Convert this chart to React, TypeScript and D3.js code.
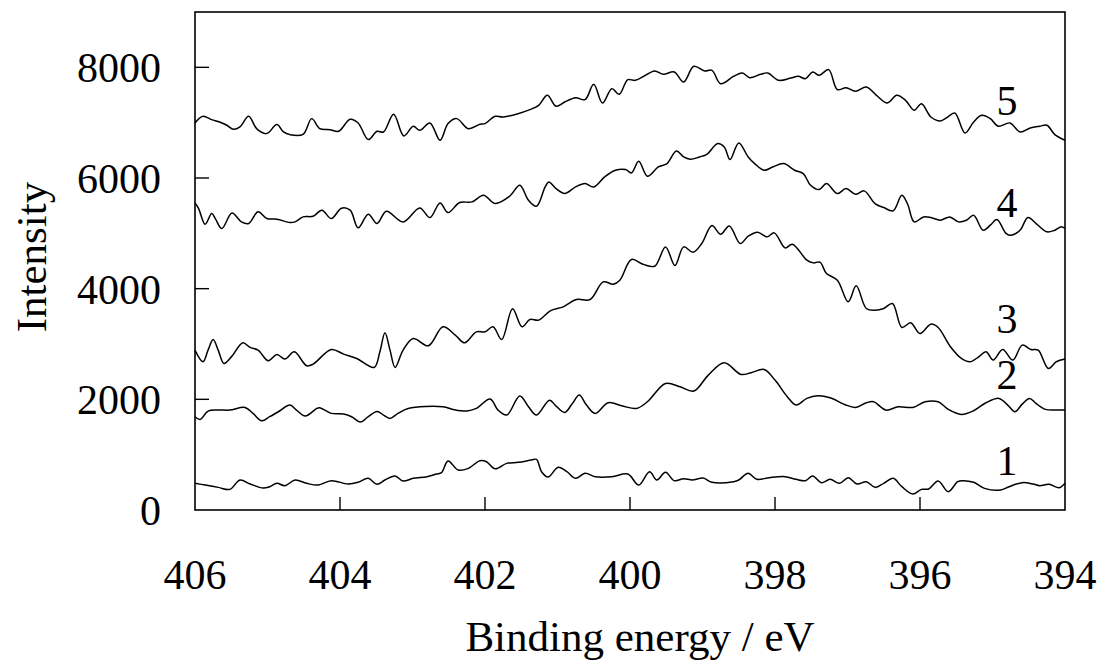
import React from "react";
import * as d3 from "d3";

// ---- data (binding energy eV, intensity) ----
const xTicks = [406, 404, 402, 400, 398, 396, 394];
const yTicks = [0, 2000, 4000, 6000, 8000];
const curveLabels = ["1", "2", "3", "4", "5"];
const labelPositions: [number, number][] = [
  [394.8, 640],
  [394.8, 2180],
  [394.8, 3200],
  [394.8, 5290],
  [394.8, 7140],
];

const series1: [number, number][] = [
  [406, 482], [405.86, 451], [405.68, 409], [405.52, 373], [405.38, 542], [405.24, 470],
  [405.06, 397], [404.97, 421], [404.87, 482], [404.76, 439], [404.62, 542], [404.46, 482],
  [404.3, 451], [404.12, 530], [403.89, 470], [403.75, 500], [403.61, 572], [403.49, 464],
  [403.38, 542], [403.24, 614], [403.13, 524], [402.99, 572], [402.8, 602], [402.67, 650],
  [402.6, 674], [402.51, 885], [402.37, 722], [402.23, 752], [402.07, 891], [401.98, 873],
  [401.86, 746], [401.7, 843], [401.54, 861], [401.36, 903], [401.29, 915], [401.22, 692],
  [401.13, 595], [400.99, 771], [400.87, 692], [400.75, 572], [400.62, 662], [400.48, 602],
  [400.25, 602], [400.03, 650], [399.88, 451], [399.73, 692], [399.63, 542], [399.51, 680],
  [399.39, 530], [399.26, 566], [399.14, 542], [398.99, 578], [398.87, 500], [398.57, 512],
  [398.5, 542], [398.37, 662], [398.25, 554], [398.08, 584], [397.86, 602], [397.71, 554],
  [397.58, 530], [397.48, 614], [397.36, 494], [397.24, 554], [397.11, 482], [396.99, 584],
  [396.87, 470], [396.74, 512], [396.62, 409], [396.5, 482], [396.37, 572], [396.25, 421],
  [396.1, 289], [395.98, 373], [395.88, 379], [395.75, 524], [395.61, 331], [395.48, 512],
  [395.41, 530], [395.26, 500], [395.11, 391], [394.89, 361], [394.77, 421], [394.59, 494],
  [394.44, 470], [394.35, 439], [394.22, 464], [394.08, 403], [394, 482],
];

const series2: [number, number][] = [
  [406, 1686], [405.93, 1637], [405.82, 1788], [405.68, 1806], [405.52, 1806], [405.31, 1854],
  [405.2, 1746], [405.08, 1613], [404.97, 1686], [404.85, 1776], [404.69, 1896], [404.6, 1806],
  [404.48, 1698], [404.32, 1836], [404.28, 1848], [404.12, 1746], [403.95, 1734], [403.84, 1686],
  [403.72, 1589], [403.61, 1686], [403.49, 1782], [403.4, 1716], [403.31, 1655], [403.2, 1746],
  [403.06, 1836], [402.58, 1866], [402.44, 1818], [402.25, 1788], [402.12, 1836], [401.93, 2005],
  [401.82, 1806], [401.7, 1716], [401.52, 2059], [401.4, 1866], [401.29, 1716], [401.11, 1985],
  [401.02, 1878], [400.9, 1764], [400.8, 1914], [400.7, 2077], [400.6, 1896], [400.48, 1746],
  [400.3, 1938], [400.1, 1878], [399.91, 1836], [399.76, 1956], [399.51, 2287], [399.31, 2227],
  [399.12, 2149], [398.92, 2438], [398.7, 2661], [398.47, 2450], [398.33, 2480], [398.15, 2540],
  [398.0, 2348], [397.83, 2047], [397.71, 1896], [397.56, 2017], [397.41, 2065], [397.24, 2029],
  [397.04, 1908], [396.89, 1854], [396.74, 1938], [396.64, 1956], [396.47, 1806], [396.3, 1866],
  [396.1, 1854], [395.93, 1956], [395.75, 1956], [395.61, 1818], [395.43, 1728], [395.26, 1794],
  [395.09, 1938], [394.91, 2017], [394.79, 1896], [394.69, 1776], [394.59, 1914], [394.49, 2017],
  [394.4, 1926], [394.27, 1818], [394.12, 1806], [394, 1806],
];

const series3: [number, number][] = [
  [406, 2889], [405.89, 2679], [405.82, 2889], [405.75, 3082], [405.68, 2889], [405.6, 2649],
  [405.49, 2781], [405.34, 3022], [405.24, 2938], [405.13, 2889], [404.99, 2697], [404.87, 2811],
  [404.76, 2727], [404.63, 2859], [404.46, 2607], [404.37, 2637], [404.12, 2901], [403.95, 2817],
  [403.77, 2739], [403.53, 2576], [403.45, 2859], [403.38, 3202], [403.31, 2889], [403.24, 2576],
  [403.13, 2889], [402.99, 3100], [402.78, 2968], [402.58, 3311], [402.41, 3160], [402.28, 3022],
  [402.12, 3220], [402.0, 3220], [401.89, 3311], [401.77, 3082], [401.62, 3636], [401.49, 3311],
  [401.38, 3443], [401.26, 3431], [401.1, 3600], [400.92, 3672], [400.74, 3804], [400.55, 3804],
  [400.37, 4123], [400.23, 4081], [400.14, 4153], [399.98, 4527], [399.82, 4442], [399.66, 4406],
  [399.51, 4755], [399.38, 4419], [399.26, 4755], [399.13, 4659], [399.01, 4816], [398.87, 5141],
  [398.75, 4984], [398.63, 5134], [398.48, 4816], [398.37, 4948], [398.24, 5020], [398.11, 4936],
  [398.01, 5008], [397.86, 4737], [397.76, 4804], [397.56, 4515], [397.47, 4466], [397.38, 4479],
  [397.29, 4274], [397.14, 4154], [396.99, 3762], [396.88, 4051], [396.74, 3642], [396.62, 3612],
  [396.5, 3642], [396.38, 3732], [396.25, 3299], [396.13, 3383], [396.0, 3190], [395.85, 3359],
  [395.75, 3299], [395.58, 2950], [395.43, 2739], [395.31, 2679], [395.19, 2769], [395.09, 2859],
  [394.99, 2709], [394.86, 2901], [394.72, 2709], [394.59, 2980], [394.47, 2901], [394.37, 2889],
  [394.23, 2558], [394.12, 2679], [394, 2727],
];

const series4: [number, number][] = [
  [406, 5550], [405.95, 5448], [405.86, 5165], [405.77, 5357], [405.72, 5267], [405.63, 5087],
  [405.49, 5369], [405.36, 5207], [405.26, 5177], [405.13, 5388], [405.01, 5267], [404.87, 5255],
  [404.69, 5195], [404.62, 5207], [404.51, 5297], [404.37, 5309], [404.25, 5418], [404.12, 5267],
  [403.98, 5454], [403.86, 5418], [403.75, 5099], [403.61, 5345], [403.49, 5177], [403.36, 5400],
  [403.13, 5207], [402.9, 5460], [402.76, 5285], [402.62, 5550], [402.51, 5375], [402.35, 5556],
  [402.18, 5568], [402.02, 5689], [401.86, 5538], [401.66, 5670], [401.52, 5869], [401.4, 5598],
  [401.29, 5490], [401.17, 5839], [401.12, 5929], [401.02, 5809], [400.9, 5719], [400.75, 5839],
  [400.62, 5899], [400.5, 5839], [400.35, 6020], [400.2, 6140], [400.06, 6152], [399.98, 6092],
  [399.88, 6303], [399.76, 6032], [399.61, 6200], [399.49, 6260], [399.36, 6489], [399.26, 6381],
  [399.17, 6339], [399.04, 6381], [398.94, 6429], [398.79, 6622], [398.7, 6561], [398.62, 6333],
  [398.5, 6634], [398.37, 6381], [398.28, 6260], [398.15, 6140], [398.03, 6200], [397.88, 6260],
  [397.73, 6140], [397.61, 6080], [397.51, 5869], [397.39, 5791], [397.29, 5899], [397.14, 5719],
  [397.02, 5809], [396.89, 5707], [396.77, 5767], [396.62, 5538], [396.5, 5466], [396.37, 5406],
  [396.25, 5689], [396.17, 5526], [396.08, 5207], [395.95, 5297], [395.85, 5285], [395.72, 5237],
  [395.59, 5297], [395.47, 5207], [395.36, 5237], [395.26, 5327], [395.13, 5057], [395.03, 5147],
  [394.94, 5249], [394.81, 4996], [394.74, 4966], [394.62, 5057], [394.51, 5285], [394.39, 5165],
  [394.25, 5027], [394.14, 5057], [394.05, 5117], [394, 5087],
];

const series5: [number, number][] = [
  [406, 6995], [405.89, 7115], [405.77, 7055], [405.66, 7013], [405.56, 6953], [405.47, 6880],
  [405.38, 6923], [405.26, 7115], [405.15, 6892], [405.03, 6802], [404.99, 6814], [404.87, 6965],
  [404.78, 6832], [404.69, 6784], [404.51, 6790], [404.39, 7073], [404.28, 6892], [404.14, 6874],
  [404.02, 6844], [403.86, 7061], [403.75, 6995], [403.61, 6694], [403.49, 6844], [403.4, 6832],
  [403.26, 7151], [403.12, 6760], [402.99, 6935], [402.9, 6862], [402.76, 6995], [402.62, 6682],
  [402.51, 6983], [402.39, 7073], [402.23, 6892], [402.07, 6971], [402.0, 6983], [401.86, 7115],
  [401.75, 7103], [401.38, 7236], [401.26, 7314], [401.14, 7494], [401.02, 7296], [400.9, 7374],
  [400.75, 7452], [400.62, 7416], [400.5, 7693], [400.38, 7356], [400.25, 7615], [400.15, 7512],
  [400.03, 7777], [399.93, 7765], [399.81, 7838], [399.66, 7934], [399.54, 7874], [399.39, 7916],
  [399.26, 7735], [399.12, 8018], [398.97, 7934], [398.87, 7946], [398.75, 7705], [398.57, 7838],
  [398.45, 7898], [398.35, 7813], [398.2, 7874], [398.1, 7898], [397.95, 7765], [397.78, 7807],
  [397.68, 7838], [397.58, 7795], [397.48, 7916], [397.39, 7856], [397.26, 7958], [397.14, 7597],
  [397.02, 7633], [396.89, 7567], [396.74, 7645], [396.6, 7494], [396.45, 7356], [396.32, 7494],
  [396.2, 7404], [396.08, 7224], [395.98, 7344], [395.85, 7103], [395.72, 7031], [395.63, 7091],
  [395.52, 7175], [395.38, 6814], [395.26, 7013], [395.15, 7133], [395.03, 7073], [394.92, 6935],
  [394.76, 6995], [394.62, 6832], [394.48, 6904], [394.35, 6935], [394.25, 6953], [394.14, 6784],
  [394, 6682],
];

const allSeries = [series1, series2, series3, series4, series5];

// ---- layout ----
const W = 1102;
const H = 666;
const left = 195;
const right = 1065;
const top = 12;
const bottom = 510;
const FONT = "'Liberation Serif', 'Times New Roman', Times, serif";

export default function App() {
  const x = d3.scaleLinear().domain([406, 394]).range([left, right]);
  const y = d3.scaleLinear().domain([0, 9000]).range([bottom, top]);
  const line = d3
    .line<[number, number]>()
    .x((d) => x(d[0]))
    .y((d) => y(d[1]))
    .curve(d3.curveCatmullRom.alpha(0.5));

  return (
    <svg
      width={W}
      height={H}
      style={{ position: "absolute", left: 0, top: 0, background: "#fff" }}
      fontFamily={FONT}
    >
      <rect x={0} y={0} width={W} height={H} fill="#fff" />
      {/* curves */}
      {allSeries.map((s, i) => (
        <path key={i} d={line(s) || ""} fill="none" stroke="#000" strokeWidth={1.5} />
      ))}
      {/* frame */}
      <rect
        x={left}
        y={top}
        width={right - left}
        height={bottom - top}
        fill="none"
        stroke="#000"
        strokeWidth={1.6}
      />
      {/* y ticks */}
      {yTicks.map((t) => (
        <g key={"y" + t}>
          {t > 0 && <line x1={left} x2={left + 14} y1={y(t)} y2={y(t)} stroke="#000" strokeWidth={1.4} />}
          <text x={left - 34} y={y(t) + 15} textAnchor="end" fontSize={42} fill="#000">
            {t}
          </text>
        </g>
      ))}
      {/* x ticks */}
      {xTicks.map((t) => (
        <g key={"x" + t}>
          {t < 406 && t > 394 && (
            <line x1={x(t)} x2={x(t)} y1={bottom} y2={bottom - 13} stroke="#000" strokeWidth={1.4} />
          )}
          <text x={x(t)} y={589} textAnchor="middle" fontSize={42} fill="#000">
            {t}
          </text>
        </g>
      ))}
      {/* curve labels */}
      {curveLabels.map((lab, i) => (
        <text
          key={"l" + lab}
          x={x(labelPositions[i][0])}
          y={y(labelPositions[i][1])}
          textAnchor="middle"
          fontSize={42}
          fill="#000"
        >
          {lab}
        </text>
      ))}
      {/* axis titles */}
      <text x={640} y={651} textAnchor="middle" fontSize={43} fill="#000">
        Binding energy / eV
      </text>
      <text
        transform={`translate(46, 257) rotate(-90)`}
        textAnchor="middle"
        fontSize={43}
        fill="#000"
      >
        Intensity
      </text>
    </svg>
  );
}
